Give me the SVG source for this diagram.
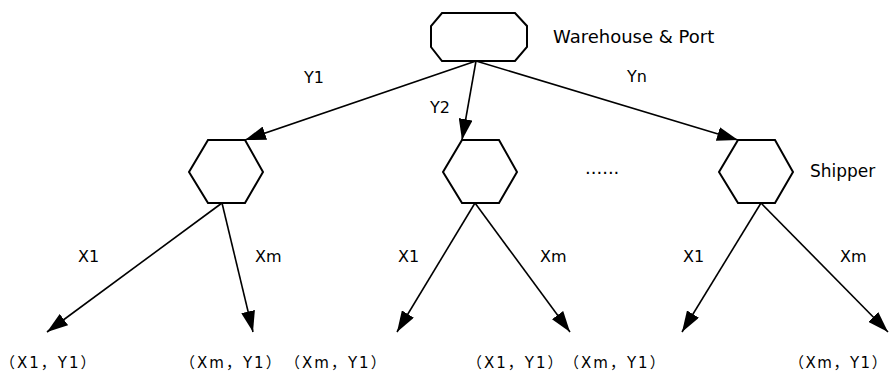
<svg xmlns="http://www.w3.org/2000/svg" width="890" height="374" viewBox="0 0 890 374">
<style>
.shape{fill:#fff;stroke:#000;stroke-width:2;stroke-linejoin:miter}
.edge{stroke:#000;stroke-width:1.6;fill:none;marker-end:url(#arr)}
.lbl{font-family:"DejaVu Sans","Noto Sans CJK SC",sans-serif;font-size:16px;fill:#000}
.big{font-family:"DejaVu Sans",sans-serif;font-size:17px;fill:#000}
.leaf{font-family:"DejaVu Sans","Noto Sans CJK SC",sans-serif;font-size:15px;letter-spacing:2px;fill:#000}
.cjk{font-family:"Noto Sans CJK SC",sans-serif}
</style>
<defs>
<marker id="arr" markerUnits="userSpaceOnUse" markerWidth="22" markerHeight="14" refX="21" refY="7" orient="auto">
<path d="M0,0 L21,7 L0,14 z" fill="#000"/>
</marker>
</defs>
<rect width="890" height="374" fill="#fff"/>
<g id="connectors">
<line class="edge" x1="476" y1="61" x2="245" y2="140"/>
<line class="edge" x1="476" y1="61" x2="462" y2="140"/>
<line class="edge" x1="476" y1="61" x2="738" y2="140"/>
<line class="edge" x1="222" y1="203" x2="47" y2="332"/>
<line class="edge" x1="222" y1="203" x2="253" y2="332"/>
<line class="edge" x1="475" y1="203" x2="397" y2="332"/>
<line class="edge" x1="475" y1="203" x2="570" y2="332"/>
<line class="edge" x1="761" y1="203" x2="682" y2="332"/>
<line class="edge" x1="761" y1="203" x2="888" y2="332"/>
<text class="lbl" x="304" y="83">Y1</text>
<text class="lbl" x="430" y="113">Y2</text>
<text class="lbl" x="627" y="82">Yn</text>
<text class="lbl" x="78" y="262">X1</text>
<text class="lbl" x="255" y="262">Xm</text>
<text class="lbl" x="398" y="262">X1</text>
<text class="lbl" x="540" y="262">Xm</text>
<text class="lbl" x="683" y="262">X1</text>
<text class="lbl" x="840" y="262">Xm</text>
</g>
<g id="root">
<polygon class="shape" points="442,13 515,13 527,26 527,47 515,61 442,61 431,47 431,26"/>
<text class="big" x="553" y="43" style="font-size:18px">Warehouse &amp; Port</text>
</g>
<g id="shipper1">
<polygon class="shape" points="208,140 245,140 263,172 245,203 208,203 189,172"/>
</g>
<g id="shipper2">
<polygon class="shape" points="462,140 499,140 517,172 499,203 462,203 443,172"/>
</g>
<g id="dots">
<text class="big" x="585" y="174" style="font-size:18px">......</text>
</g>
<g id="shipper3">
<polygon class="shape" points="738,140 775,140 793,172 775,203 738,203 719,172"/>
<text class="big" x="810" y="177">Shipper</text>
</g>
<g id="leaves">
<text class="leaf" x="0" y="368"><tspan class="cjk">（</tspan>X1<tspan class="cjk">，</tspan>Y1<tspan class="cjk">）</tspan></text>
<text class="leaf" x="180" y="368"><tspan class="cjk">（</tspan>Xm<tspan class="cjk">，</tspan>Y1<tspan class="cjk">）</tspan></text>
<text class="leaf" x="285" y="368"><tspan class="cjk">（</tspan>Xm<tspan class="cjk">，</tspan>Y1<tspan class="cjk">）</tspan></text>
<text class="leaf" x="467" y="368"><tspan class="cjk">（</tspan>X1<tspan class="cjk">，</tspan>Y1<tspan class="cjk">）</tspan></text>
<text class="leaf" x="564" y="368"><tspan class="cjk">（</tspan>Xm<tspan class="cjk">，</tspan>Y1<tspan class="cjk">）</tspan></text>
<text class="leaf" x="789" y="368" style="letter-spacing:1.5px"><tspan class="cjk">（</tspan>Xm<tspan class="cjk">，</tspan>Y1<tspan class="cjk">）</tspan></text>
</g>
</svg>
